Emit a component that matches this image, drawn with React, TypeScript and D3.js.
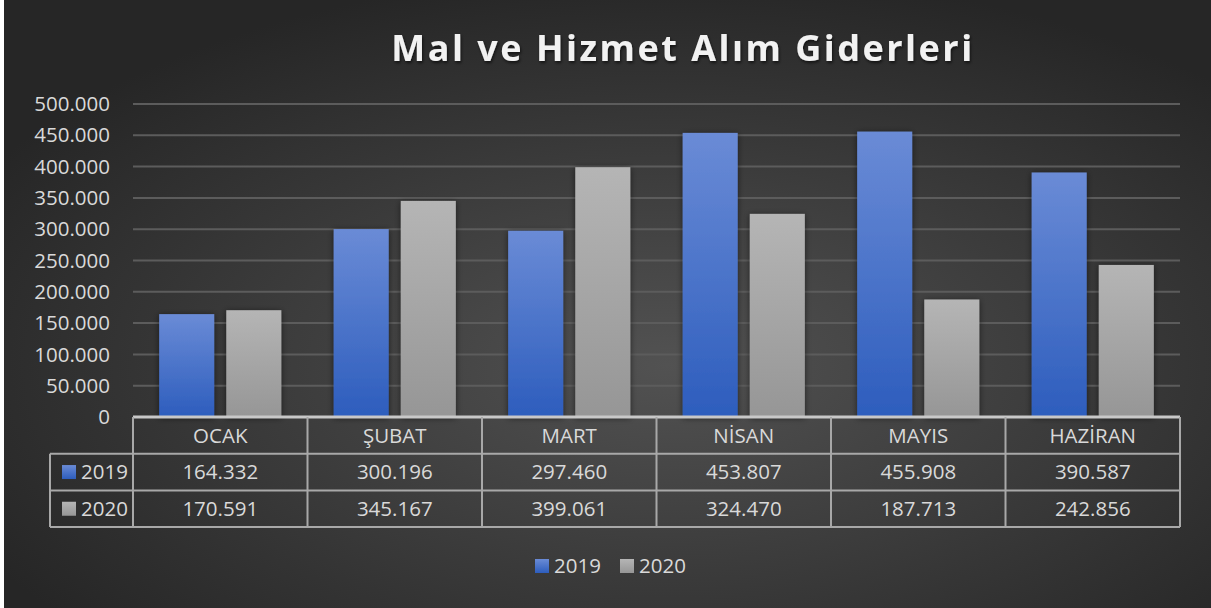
import { useRef, useEffect } from 'react';
import * as d3 from 'd3';

const categories = ['OCAK', 'ŞUBAT', 'MART', 'NİSAN', 'MAYIS', 'HAZİRAN'];
const seriesNames = ['2019', '2020'];
const values2019 = [164332, 300196, 297460, 453807, 455908, 390587];
const values2020 = [170591, 345167, 399061, 324470, 187713, 242856];
const yTicks = [0, 50000, 100000, 150000, 200000, 250000, 300000, 350000, 400000, 450000, 500000];

const W = 1207;
const H = 608;
const FONT = '"Open Sans", sans-serif';

const fmt = (v: number) => (v === 0 ? '0' : d3.format(',')(v).replace(/,/g, '.'));

function App() {
  const svgRef = useRef<SVGSVGElement>(null);

  useEffect(() => {
    const root = d3.select(svgRef.current);
    root.selectAll('*').remove();
    const svg = root.attr('width', W).attr('height', H).attr('viewBox', `0 0 ${W} ${H}`);

    const defs = svg.append('defs');
    const bg = defs.append('radialGradient').attr('id', 'bg').attr('cx', '55%').attr('cy', '60%').attr('r', '65%');
    bg.append('stop').attr('offset', '0%').attr('stop-color', '#525252');
    bg.append('stop').attr('offset', '100%').attr('stop-color', '#262626');

    const blue = defs.append('linearGradient').attr('id', 'blue').attr('x1', 0).attr('x2', 0).attr('y1', 0).attr('y2', 1);
    blue.append('stop').attr('offset', '0%').attr('stop-color', '#6a8bd6');
    blue.append('stop').attr('offset', '100%').attr('stop-color', '#2d5dbd');
    const gray = defs.append('linearGradient').attr('id', 'gray').attr('x1', 0).attr('x2', 0).attr('y1', 0).attr('y2', 1);
    gray.append('stop').attr('offset', '0%').attr('stop-color', '#b5b5b5');
    gray.append('stop').attr('offset', '100%').attr('stop-color', '#969696');

    const shadow = defs.append('filter').attr('id', 'shadow').attr('x', '-20%').attr('y', '-20%').attr('width', '140%').attr('height', '140%');
    shadow.append('feDropShadow').attr('dx', 0).attr('dy', 1).attr('stdDeviation', 3).attr('flood-color', '#000').attr('flood-opacity', 0.55);
    const tshadow = defs.append('filter').attr('id', 'tshadow');
    tshadow.append('feDropShadow').attr('dx', 1).attr('dy', 2).attr('stdDeviation', 1.5).attr('flood-color', '#000').attr('flood-opacity', 0.6);

    svg.append('rect').attr('width', W).attr('height', H).attr('fill', 'url(#bg)');

    const left = 129;
    const right = 1176;
    const top = 104;
    const bottom = 417;
    const rowH = 36.7;
    const keyLeft = 46;
    const fills = ['url(#blue)', 'url(#gray)'];
    const data = [values2019, values2020];

    const y = d3.scaleLinear().domain([0, 500000]).range([bottom, top]);
    const x = d3.scaleBand().domain(categories).range([left, right]);
    const xs = d3.scaleBand().domain(seriesNames).range([0, x.bandwidth()]).paddingInner(0.18).paddingOuter(0.39);

    // title
    svg.append('text')
      .attr('x', 679).attr('y', 61)
      .attr('text-anchor', 'middle')
      .style('font-family', FONT).style('font-size', '36px').style('font-weight', 700)
      .style('letter-spacing', '2.5px')
      .attr('fill', '#f2f2f2')
      .attr('filter', 'url(#tshadow)')
      .text('Mal ve Hizmet Alım Giderleri');

    // gridlines
    svg.append('g').selectAll('line').data(yTicks.slice(1)).enter().append('line')
      .attr('x1', left).attr('x2', right)
      .attr('y1', d => y(d)).attr('y2', d => y(d))
      .attr('stroke', '#5c5c5c').attr('stroke-width', 2);

    // y labels
    svg.append('g').selectAll('text').data(yTicks).enter().append('text')
      .attr('x', 106).attr('y', d => y(d)).attr('dy', '0.35em')
      .attr('text-anchor', 'end')
      .style('font-family', FONT).style('font-size', '20.5px')
      .attr('fill', '#d9d9d9')
      .text(d => fmt(d));

    // bars
    seriesNames.forEach((s, si) => {
      svg.append('g').attr('filter', 'url(#shadow)').selectAll('rect').data(data[si]).enter().append('rect')
        .attr('x', (d, i) => (x(categories[i]) as number) + (xs(s) as number))
        .attr('width', xs.bandwidth())
        .attr('y', d => y(d))
        .attr('height', d => bottom - y(d))
        .attr('fill', fills[si]);
    });

    // table
    const tbl = svg.append('g');
    const lineColor = '#a8a8a8';
    const rows = [bottom, bottom + rowH, bottom + 2 * rowH, bottom + 3 * rowH];
    const cols = [...categories.map(c => x(c) as number), right];
    tbl.append('line').attr('x1', left).attr('x2', right).attr('y1', rows[0]).attr('y2', rows[0]).attr('stroke', '#c8c8c8').attr('stroke-width', 3);
    rows.slice(1).forEach(r => {
      tbl.append('line').attr('x1', keyLeft).attr('x2', right).attr('y1', r).attr('y2', r).attr('stroke', lineColor).attr('stroke-width', 2);
    });
    cols.forEach(c => {
      tbl.append('line').attr('x1', c).attr('x2', c).attr('y1', rows[0]).attr('y2', rows[3]).attr('stroke', lineColor).attr('stroke-width', 2);
    });
    tbl.append('line').attr('x1', keyLeft).attr('x2', keyLeft).attr('y1', rows[1]).attr('y2', rows[3]).attr('stroke', lineColor).attr('stroke-width', 2);

    const txt = (g: any, xx: number, yy: number, t: string, anchor = 'middle') =>
      g.append('text').attr('x', xx).attr('y', yy).attr('dy', '0.35em').attr('text-anchor', anchor)
        .style('font-family', FONT).style('font-size', '20.5px').attr('fill', '#d9d9d9').text(t);

    categories.forEach(c => txt(tbl, (x(c) as number) + x.bandwidth() / 2, rows[0] + rowH / 2, c));
    seriesNames.forEach((s, si) => {
      const cy = rows[si + 1] + rowH / 2;
      tbl.append('rect').attr('x', keyLeft + 12).attr('y', cy - 7).attr('width', 14).attr('height', 14).attr('fill', fills[si]);
      txt(tbl, keyLeft + 31, cy, s, 'start');
      data[si].forEach((v, i) => txt(tbl, (x(categories[i]) as number) + x.bandwidth() / 2, cy, fmt(v)));
    });

    // legend
    const lg = svg.append('g');
    const legendX = [531, 616];
    seriesNames.forEach((s, si) => {
      lg.append('rect').attr('x', legendX[si]).attr('y', 559).attr('width', 14).attr('height', 14).attr('fill', fills[si]);
      txt(lg, legendX[si] + 19, 566, s, 'start');
    });
  }, []);

  return <svg ref={svgRef} style={{ position: 'absolute', left: 4, top: 0, display: 'block' }} />;
}

export default App;
